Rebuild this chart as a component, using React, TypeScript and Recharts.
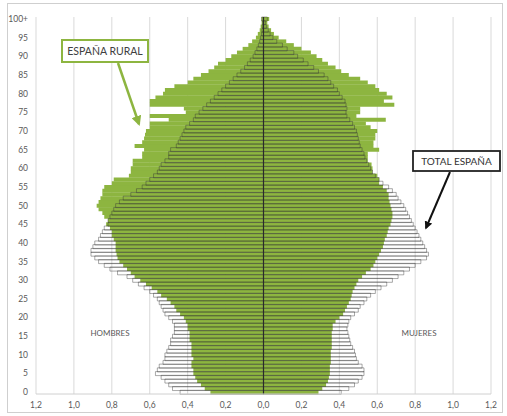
import React from "react";
import { BarChart, Bar, XAxis, YAxis, CartesianGrid, ReferenceLine } from "recharts";

// age groups, bottom to top
const AGES = [
    "0", "1", "2", "3", "4", "5", "6", "7", "8", "9",
    "10", "11", "12", "13", "14", "15", "16", "17", "18", "19",
    "20", "21", "22", "23", "24", "25", "26", "27", "28", "29",
    "30", "31", "32", "33", "34", "35", "36", "37", "38", "39",
    "40", "41", "42", "43", "44", "45", "46", "47", "48", "49",
    "50", "51", "52", "53", "54", "55", "56", "57", "58", "59",
    "60", "61", "62", "63", "64", "65", "66", "67", "68", "69",
    "70", "71", "72", "73", "74", "75", "76", "77", "78", "79",
    "80", "81", "82", "83", "84", "85", "86", "87", "88", "89",
    "90", "91", "92", "93", "94", "95", "96", "97", "98", "99",
    "100+",
];

// % of population, hombres (left side)
const MEN_TOTAL = [
    0.44, 0.48, 0.5, 0.52, 0.54, 0.57, 0.56, 0.55, 0.53, 0.52,
    0.52, 0.51, 0.5, 0.49, 0.49, 0.48, 0.47, 0.47, 0.47, 0.48,
    0.5, 0.52, 0.53, 0.54, 0.55, 0.56, 0.58, 0.6, 0.63, 0.66,
    0.69, 0.72, 0.77, 0.81, 0.84, 0.87, 0.89, 0.91, 0.91, 0.9,
    0.89, 0.87, 0.86, 0.85, 0.84, 0.82, 0.82, 0.81, 0.8, 0.79,
    0.78, 0.76, 0.74, 0.7, 0.67, 0.64, 0.62, 0.6, 0.58, 0.56,
    0.55, 0.54, 0.52, 0.5, 0.5, 0.49, 0.46, 0.45, 0.44, 0.43,
    0.42, 0.41, 0.39, 0.37, 0.36, 0.34, 0.32, 0.3, 0.28, 0.26,
    0.24, 0.22, 0.2, 0.18, 0.16, 0.14, 0.12, 0.1, 0.085, 0.07,
    0.055, 0.045, 0.035, 0.027, 0.02, 0.015, 0.01, 0.008, 0.006, 0.004,
    0.01,
];

const MEN_RURAL = [
    0.28, 0.31, 0.33, 0.35, 0.36, 0.37, 0.37, 0.38, 0.38, 0.37,
    0.38, 0.38, 0.38, 0.38, 0.39, 0.39, 0.39, 0.4, 0.4, 0.41,
    0.42, 0.44, 0.46, 0.47, 0.49, 0.51, 0.54, 0.56, 0.59, 0.62,
    0.65, 0.68, 0.7, 0.72, 0.74, 0.76, 0.77, 0.775, 0.78, 0.78,
    0.78, 0.79, 0.8, 0.8, 0.81, 0.83, 0.82, 0.84, 0.85, 0.87,
    0.88, 0.87, 0.86, 0.85, 0.85, 0.84, 0.8, 0.79, 0.71, 0.7,
    0.7, 0.69, 0.69, 0.64, 0.64, 0.63, 0.68, 0.64, 0.63, 0.625,
    0.62, 0.6, 0.6, 0.5, 0.6, 0.41, 0.42, 0.6, 0.6, 0.57,
    0.53, 0.52, 0.47, 0.4, 0.37, 0.33, 0.29, 0.26, 0.24, 0.2,
    0.17, 0.14, 0.11, 0.08, 0.06, 0.04, 0.03, 0.02, 0.015, 0.01,
    0.01,
];

// mujeres (right side)
const WOMEN_TOTAL = [
    0.41, 0.45, 0.48, 0.5, 0.52, 0.53, 0.53, 0.52, 0.5, 0.49,
    0.485, 0.48, 0.47, 0.46, 0.455, 0.45, 0.445, 0.44, 0.445, 0.45,
    0.46, 0.48, 0.5, 0.51, 0.53, 0.545, 0.565, 0.59, 0.62, 0.65,
    0.68, 0.71, 0.74, 0.77, 0.8, 0.83, 0.86, 0.87, 0.86, 0.85,
    0.84, 0.83, 0.82, 0.81, 0.8, 0.79, 0.78, 0.77, 0.76, 0.75,
    0.74, 0.725, 0.71, 0.7, 0.68, 0.66, 0.63, 0.61, 0.59, 0.575,
    0.565, 0.555, 0.545, 0.535, 0.53, 0.52, 0.51, 0.505, 0.5, 0.495,
    0.49, 0.48, 0.47, 0.455, 0.44, 0.435, 0.44, 0.435, 0.43, 0.415,
    0.4, 0.39, 0.37, 0.355, 0.34, 0.32, 0.29, 0.265, 0.235, 0.21,
    0.18, 0.16, 0.125, 0.1, 0.07, 0.05, 0.035, 0.025, 0.015, 0.01,
    0.02,
];

const WOMEN_RURAL = [
    0.29, 0.31, 0.33, 0.34, 0.345, 0.35, 0.35, 0.35, 0.355, 0.355,
    0.355, 0.355, 0.36, 0.36, 0.36, 0.36, 0.36, 0.365, 0.365, 0.38,
    0.4, 0.42, 0.43, 0.44, 0.45, 0.46, 0.465, 0.47, 0.48, 0.49,
    0.5, 0.52, 0.54, 0.565, 0.58, 0.59, 0.6, 0.61, 0.62, 0.63,
    0.635, 0.64, 0.65, 0.655, 0.66, 0.67, 0.675, 0.68, 0.68, 0.675,
    0.67, 0.665, 0.66, 0.66, 0.65, 0.63, 0.61, 0.61, 0.6, 0.575,
    0.575, 0.57, 0.55, 0.55, 0.55, 0.61, 0.58, 0.58, 0.59, 0.59,
    0.6, 0.565, 0.54, 0.645, 0.49, 0.51, 0.51, 0.69, 0.635, 0.68,
    0.65, 0.61, 0.59, 0.55, 0.51, 0.45, 0.41, 0.38, 0.34, 0.31,
    0.28, 0.25, 0.2, 0.16, 0.12, 0.08, 0.055, 0.04, 0.027, 0.02,
    0.03,
];

const X_TICKS = [-1.2, -1.0, -0.8, -0.6, -0.4, -0.2, 0, 0.2, 0.4, 0.6, 0.8, 1.0, 1.2];

const GREEN = "#8db540";
const FONT = "Lato, 'Liberation Sans', sans-serif";

const rows = AGES.map((age, i) => ({
    age,
    mr: -MEN_RURAL[i],
    wr: WOMEN_RURAL[i],
    mt: -MEN_TOTAL[i],
    wt: WOMEN_TOTAL[i],
}));

const fmtTick = (v: number) => Math.abs(v).toFixed(1).replace(".", ",");

function Annotations() {
    return (
        <svg
            width={507}
            height={416}
            style={{ position: "absolute", left: 0, top: 0, pointerEvents: "none" }}
        >
            <defs>
                <marker id="headGreen" viewBox="0 0 10 10" refX="8" refY="5" markerWidth="4" markerHeight="4" orient="auto">
                    <path d="M0,0 L10,5 L0,10 z" fill={GREEN} />
                </marker>
                <marker id="headBlack" viewBox="0 0 10 10" refX="8" refY="5" markerWidth="4" markerHeight="4" orient="auto">
                    <path d="M0,0 L10,5 L0,10 z" fill="#111" />
                </marker>
            </defs>
            <rect x={7.5} y={3.5} width={495} height={409} fill="none" stroke="#cfcfcf" />

            <line x1={118} y1={63} x2={139} y2={124} stroke={GREEN} strokeWidth={2.5} markerEnd="url(#headGreen)" />
            <rect x={62} y={40} width={86} height={22} fill="#fff" stroke={GREEN} strokeWidth={2} />
            <text x={105} y={55} textAnchor="middle" fontSize={10.5} fill="#404040" fontFamily={FONT}>
                ESPAÑA RURAL
            </text>

            <line x1={450} y1={172} x2={426} y2={228} stroke="#111" strokeWidth={2} markerEnd="url(#headBlack)" />
            <rect x={413} y={151} width={87} height={20} fill="#fff" stroke="#222" strokeWidth={1.8} />
            <text x={456.5} y={165} textAnchor="middle" fontSize={10} fill="#333" fontFamily={FONT}>
                TOTAL ESPAÑA
            </text>

            <text x={110} y={336} textAnchor="middle" fontSize={8} fill="#595959" fontFamily={FONT}>
                HOMBRES
            </text>
            <text x={419} y={336} textAnchor="middle" fontSize={8} fill="#595959" fontFamily={FONT}>
                MUJERES
            </text>
        </svg>
    );
}

export default function App() {
    const tick = { fontSize: 8.5, fill: "#595959", fontFamily: FONT };
    return (
        <div style={{ position: "absolute", left: 0, top: 0, width: 507, height: 416, background: "#fff" }}>
            <BarChart
                width={507}
                height={416}
                data={rows}
                layout="vertical"
                stackOffset="sign"
                barCategoryGap={0}
                barGap={0}
                margin={{ top: 17, right: 16, bottom: 2, left: 0 }}
            >
                <CartesianGrid horizontal={false} stroke="#d9d9d9" yAxisId="rural" />
                <XAxis
                    type="number"
                    domain={[-1.2, 1.2]}
                    ticks={X_TICKS}
                    tickFormatter={fmtTick}
                    axisLine={{ stroke: "#d0d0d0" }}
                    tickLine={false}
                    tickSize={0}
                    tickMargin={8}
                    height={20}
                    tick={tick}
                    allowDataOverflow
                />
                <YAxis
                    yAxisId="rural"
                    type="category"
                    dataKey="age"
                    reversed
                    interval={4}
                    width={36}
                    axisLine={false}
                    tickLine={false}
                    tickSize={0}
                    tickMargin={8}
                    tick={tick}
                />
                <YAxis yAxisId="total" type="category" dataKey="age" reversed hide />
                <Bar yAxisId="rural" dataKey="mr" stackId="r" fill={GREEN} isAnimationActive={false} />
                <Bar yAxisId="rural" dataKey="wr" stackId="r" fill={GREEN} isAnimationActive={false} />
                <Bar
                    yAxisId="total"
                    dataKey="mt"
                    stackId="t"
                    fill="none"
                    stroke="#333"
                    strokeOpacity={0.6}
                    strokeWidth={0.7}
                    isAnimationActive={false}
                />
                <Bar
                    yAxisId="total"
                    dataKey="wt"
                    stackId="t"
                    fill="none"
                    stroke="#333"
                    strokeOpacity={0.6}
                    strokeWidth={0.7}
                    isAnimationActive={false}
                />
                <ReferenceLine yAxisId="rural" x={0} stroke="#2a2a2a" strokeWidth={1.2} />
            </BarChart>
            <Annotations />
        </div>
    );
}
